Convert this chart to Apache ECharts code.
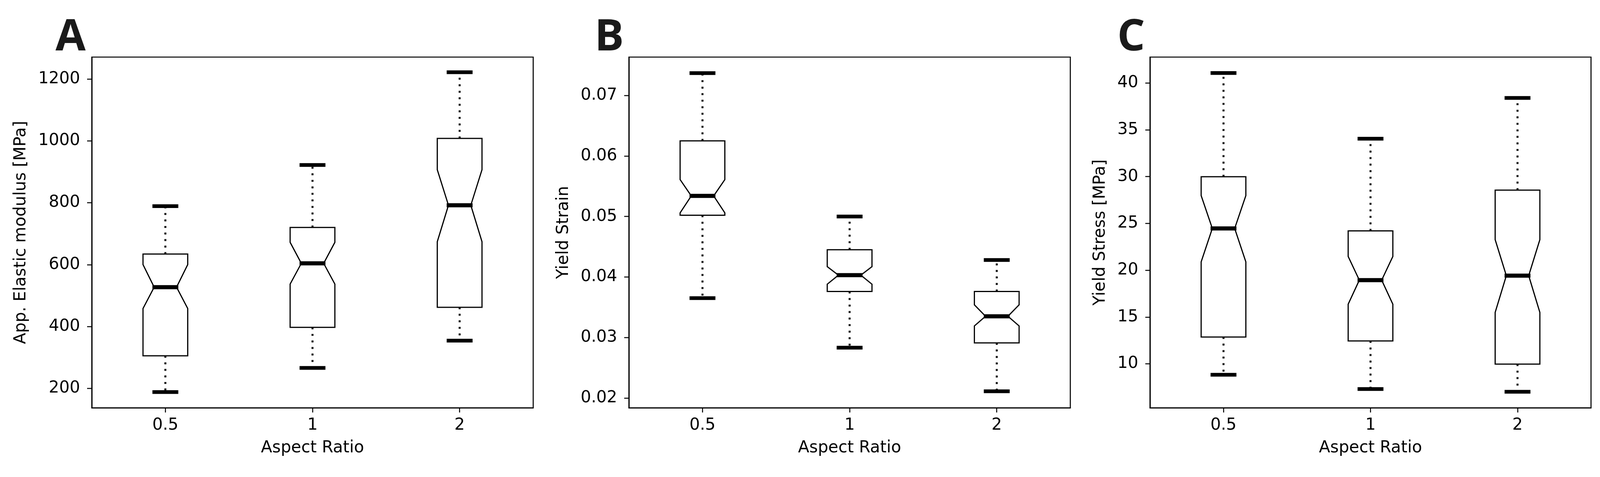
<!DOCTYPE html>
<html>
<head>
<meta charset="utf-8">
<script src="https://cdn.jsdelivr.net/npm/echarts@6/dist/echarts.min.js"></script>
<style>
html,body{margin:0;padding:0;background:#fff;}
#chart{width:4120px;height:1220px;}
</style>
</head>
<body>
<div id="chart"></div>
<script>
// ---- Data ----
const categories = ['0.5', '1', '2'];

// Panel A: App. Elastic modulus [MPa]
const aWhiskerLow  = [188, 266, 354];
const aQ1          = [305, 397, 462];
const aNotchLow    = [458, 537, 674];
const aMedian      = [527, 604, 792];
const aNotchHigh   = [600, 672, 907];
const aQ3          = [634, 720, 1008];
const aWhiskerHigh = [789, 922, 1222];
const aTicks = [200, 400, 600, 800, 1000, 1200];

// Panel B: Yield Strain
const bWhiskerLow  = [0.0365, 0.0283, 0.0211];
const bQ1          = [0.0502, 0.0376, 0.0291];
const bNotchLow    = [0.0506, 0.0388, 0.0319];
const bMedian      = [0.0534, 0.0403, 0.0335];
const bNotchHigh   = [0.0561, 0.0417, 0.0354];
const bQ3          = [0.0625, 0.0445, 0.0376];
const bWhiskerHigh = [0.0737, 0.0500, 0.0428];
const bTicks = [0.02, 0.03, 0.04, 0.05, 0.06, 0.07];

// Panel C: Yield Stress [MPa]
const cWhiskerLow  = [8.83, 7.30, 7.01];
const cQ1          = [12.86, 12.44, 9.97];
const cNotchLow    = [20.89, 16.37, 15.49];
const cMedian      = [24.46, 18.94, 19.42];
const cNotchHigh   = [27.97, 21.47, 23.26];
const cQ3          = [29.99, 24.2, 28.56];
const cWhiskerHigh = [41.07, 34.05, 38.40];
const cTicks = [10, 15, 20, 25, 30, 35, 40];

function buildRows(wl, q1, nl, md, nh, q3, wh) {
  return categories.map((c, i) => [i, wl[i], q1[i], nl[i], md[i], nh[i], q3[i], wh[i]]);
}

const panels = [
  { letter: 'A', yName: 'App. Elastic modulus [MPa]', ticks: aTicks, dec: 0,
    min: 137, max: 1271, left: 235, width: 1130, nameGap: 160, letterX: 142,
    rows: buildRows(aWhiskerLow, aQ1, aNotchLow, aMedian, aNotchHigh, aQ3, aWhiskerHigh) },
  { letter: 'B', yName: 'Yield Strain', ticks: bTicks, dec: 2,
    min: 0.01837, max: 0.07635, left: 1610, width: 1130, nameGap: 146, letterX: 1522,
    rows: buildRows(bWhiskerLow, bQ1, bNotchLow, bMedian, bNotchHigh, bQ3, bWhiskerHigh) },
  { letter: 'C', yName: 'Yield Stress [MPa]', ticks: cTicks, dec: 0,
    min: 5.30, max: 42.77, left: 2944, width: 1129, nameGap: 106, letterX: 2860,
    rows: buildRows(cWhiskerLow, cQ1, cNotchLow, cMedian, cNotchHigh, cQ3, cWhiskerHigh) }
];

const FONT = 'DejaVu Sans';
const INK = '#000';

function renderBox(params, api) {
  const xi = api.value(0);
  const wl = api.value(1), q1 = api.value(2), nl = api.value(3), md = api.value(4),
        nh = api.value(5), q3 = api.value(6), wh = api.value(7);
  const band = api.size([1, 0])[0];
  const w = band * 0.304;
  const cx = api.coord([xi, md])[0];
  const Y = v => api.coord([xi, v])[1];
  const bl = cx - w / 2, br = cx + w / 2, ml = cx - w / 4, mr = cx + w / 4;
  const pts = [
    [bl, Y(q1)], [br, Y(q1)], [br, Y(nl)], [mr, Y(md)], [br, Y(nh)], [br, Y(q3)],
    [bl, Y(q3)], [bl, Y(nh)], [ml, Y(md)], [bl, Y(nl)]
  ];
  const dotted = { stroke: INK, lineWidth: 5, lineDash: [5, 11.7], lineCap: 'butt' };
  const medStyle = { stroke: INK, lineWidth: 10.5, lineCap: 'butt' };
  const capStyle = { stroke: INK, lineWidth: 9.5, lineCap: 'butt' };
  const ext = 4.5;
  return {
    type: 'group',
    children: [
      { type: 'line', shape: { x1: cx, y1: Y(q3), x2: cx, y2: Y(wh) }, style: dotted },
      { type: 'line', shape: { x1: cx, y1: Y(q1), x2: cx, y2: Y(wl) }, style: dotted },
      { type: 'polygon', shape: { points: pts },
        style: { fill: '#fff', stroke: INK, lineWidth: 3, lineJoin: 'miter' } },
      { type: 'line', shape: { x1: ml - ext, y1: Y(md), x2: mr + ext, y2: Y(md) }, style: medStyle },
      { type: 'line', shape: { x1: ml - ext, y1: Y(wh), x2: mr + ext, y2: Y(wh) }, style: capStyle },
      { type: 'line', shape: { x1: ml - ext, y1: Y(wl), x2: mr + ext, y2: Y(wl) }, style: capStyle }
    ]
  };
}

const option = {
  backgroundColor: '#fff',
  animation: false,
  grid: panels.map(p => ({
    left: p.left, width: p.width, top: 146, height: 897,
    show: true, borderColor: INK, borderWidth: 2.7, backgroundColor: '#fff'
  })),
  xAxis: panels.map((p, i) => ({
    type: 'category', gridIndex: i, data: categories,
    name: 'Aspect Ratio', nameLocation: 'middle', nameGap: 82,
    nameTextStyle: { fontFamily: FONT, fontSize: 42, color: INK },
    axisLine: { show: true, lineStyle: { color: INK, width: 2.7 } },
    axisTick: { show: true, alignWithLabel: true, length: 12, lineStyle: { color: INK, width: 2.5 } },
    axisLabel: { fontFamily: FONT, fontSize: 42, color: INK, margin: 24 },
    splitLine: { show: false }
  })),
  yAxis: panels.map((p, i) => ({
    type: 'value', gridIndex: i, min: p.min, max: p.max,
    name: p.yName, nameLocation: 'middle', nameGap: p.nameGap, nameRotate: 90,
    nameTextStyle: { fontFamily: FONT, fontSize: 42, color: INK },
    axisLine: { show: true, lineStyle: { color: INK, width: 2.7 } },
    axisTick: { show: true, length: 12, customValues: p.ticks, lineStyle: { color: INK, width: 2.5 } },
    axisLabel: { fontFamily: FONT, fontSize: 42, color: INK, margin: 30,
      customValues: p.ticks, formatter: v => Number(v).toFixed(p.dec) },
    splitLine: { show: false }
  })),
  series: panels.map((p, i) => ({
    type: 'custom', xAxisIndex: i, yAxisIndex: i,
    renderItem: renderBox,
    encode: { x: 0, y: [1, 2, 3, 4, 5, 6, 7] },
    data: p.rows,
    clip: false
  })),
  graphic: panels.map(p => ({
    type: 'text', left: p.letterX, top: 41,
    style: { text: p.letter, font: 'bold 112px "Open Sans"', fill: '#1a1a1a' }
  }))
};

const chart = echarts.init(document.getElementById('chart'), null, { renderer: 'canvas' });
chart.setOption(option);
</script>
</body>
</html>
